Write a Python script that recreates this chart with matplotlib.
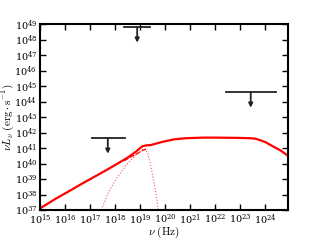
import numpy as np
import matplotlib
matplotlib.use("Agg")
import matplotlib.pyplot as plt

plt.rcParams['mathtext.fontset'] = 'cm'
plt.rcParams['font.family'] = 'serif'
plt.rcParams['font.size'] = 8

# total spectrum (log10 nu, log10 nuLnu)
tot_lognu = [15.0, 15.6, 16.24, 16.7, 17.18, 17.57, 18.0, 18.23, 18.5, 18.83, 19.0, 19.1,
             19.25, 19.43, 19.6, 19.9, 20.36, 20.8, 21.5, 22.0, 22.5, 23.0, 23.4, 23.6,
             23.8, 24.0, 24.33, 24.6, 24.9]
tot_logL = [37.1, 37.7, 38.29, 38.72, 39.15, 39.5, 39.9, 40.12, 40.38, 40.76, 41.0, 41.12,
            41.17, 41.19, 41.27, 41.4, 41.56, 41.63, 41.67, 41.67, 41.66, 41.65, 41.63, 41.6,
            41.5, 41.38, 41.08, 40.85, 40.5]

# thermal-like component (dotted)
th_lognu = [17.45, 17.71, 17.98, 18.24, 18.5, 18.83, 19.0, 19.1, 19.17, 19.3, 19.43, 19.56,
            19.67, 19.72]
th_logL = [37.0, 38.07, 38.83, 39.47, 40.0, 40.55, 40.76, 40.9, 40.97, 40.66, 39.8, 38.7,
           37.65, 37.0]

# dashed component
da_lognu = [18.37, 18.6, 18.9, 19.1, 19.27]
da_logL = [40.18, 40.4, 40.65, 40.85, 40.94]

# upper limits
ul_nu = [7.6e18, 5.1e17, 2.6e23]
ul_nu_lo = [2.3e18, 1.2e17, 2.6e22]
ul_nu_hi = [2.45e19, 2.5e18, 2.6e24]
ul_L = [6.3e48, 4.3e41, 4.0e44]

fig = plt.figure(figsize=(3.2, 2.4), dpi=100)
ax = fig.add_axes([0.125, 0.125, 0.775, 0.775])

ax.plot(10**np.array(tot_lognu), 10**np.array(tot_logL), color='red', lw=1.6)
ax.plot(10**np.array(th_lognu), 10**np.array(th_logL), color='#ff5555', lw=0.8, ls=':')
ax.plot(10**np.array(da_lognu), 10**np.array(da_logL), color='red', lw=0.9, ls='--')

ul_color = '#222222'
for nu, lo, hi, L in zip(ul_nu, ul_nu_lo, ul_nu_hi, ul_L):
    ax.plot([lo, hi], [L, L], color=ul_color, lw=1.3)
    ax.annotate('', xy=(nu, L / 10), xytext=(nu, L),
                arrowprops=dict(arrowstyle='-|>', color=ul_color, lw=1.3,
                                mutation_scale=6, shrinkA=0, shrinkB=0))

ax.set_xscale('log')
ax.set_yscale('log')
ax.set_xlim(1e15, 8e24)
ax.set_ylim(1e37, 1e49)
ax.set_xticks([10.0**k for k in range(15, 25)])
ax.set_yticks([10.0**k for k in range(37, 50)])
ax.tick_params(which='both', direction='in', top=True, right=True, labelsize=7, pad=2)
ax.tick_params(which='major', length=4, width=1)
ax.tick_params(which='minor', length=2, width=0.6)
for s in ax.spines.values():
    s.set_linewidth(1.5)

ax.set_xlabel(r'$\nu\ (\mathrm{Hz})$', fontsize=8)
ax.set_ylabel(r'$\nu L_\nu\ (\mathrm{erg}\cdot\mathrm{s}^{-1})$', fontsize=8)
ax.xaxis.set_label_coords(0.5, -0.08)
ax.yaxis.set_label_coords(-0.098, 0.5)

fig.savefig('out.png', dpi=100)
